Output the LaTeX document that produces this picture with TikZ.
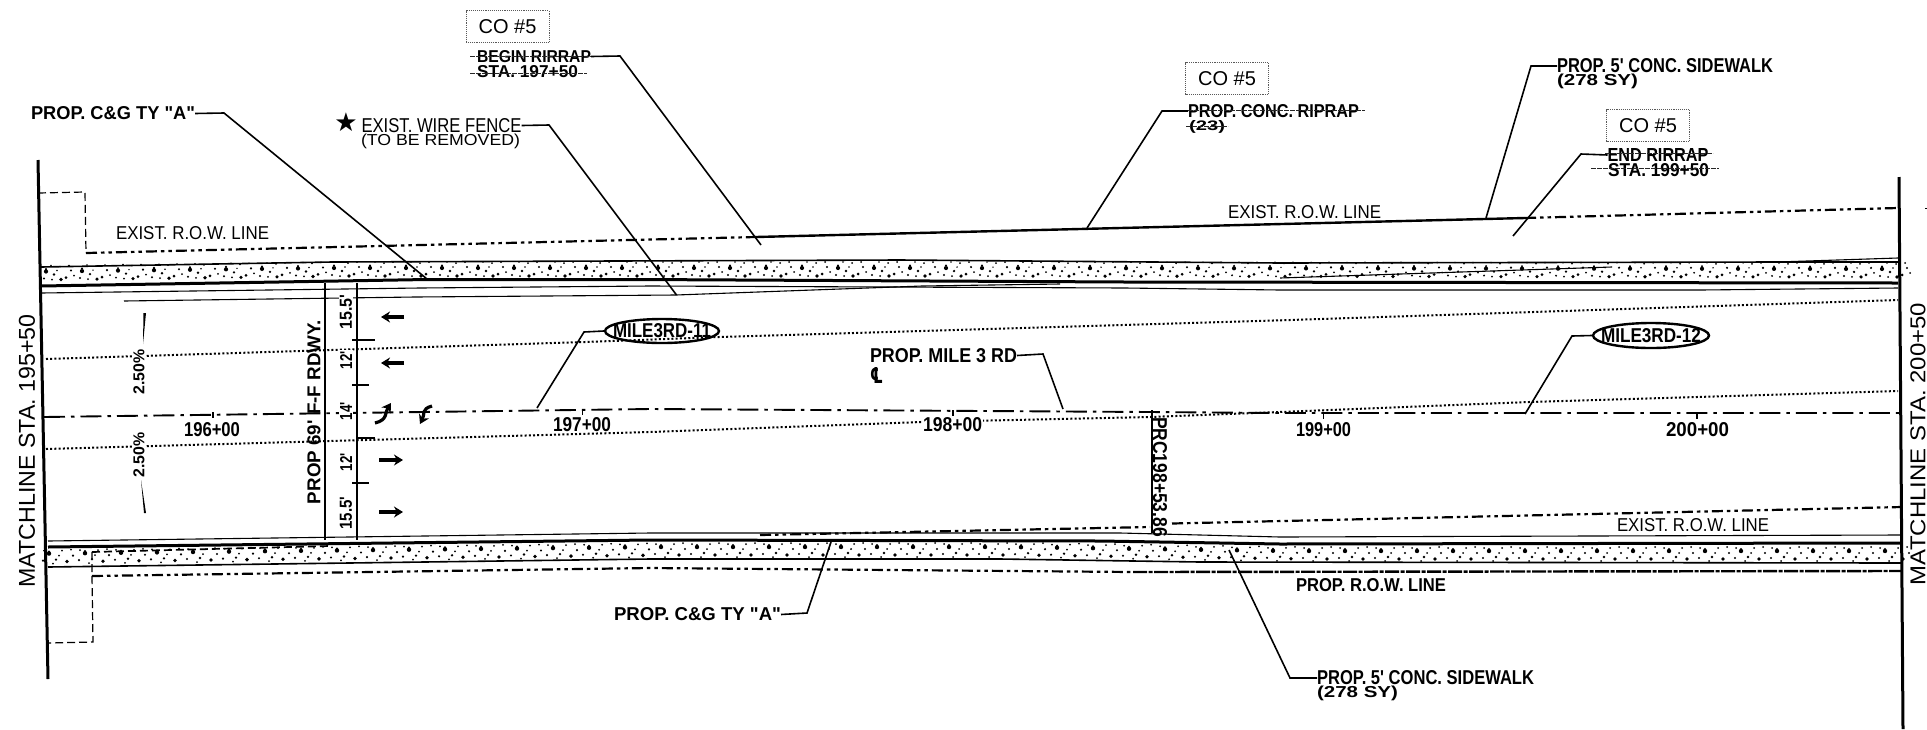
\documentclass[tikz,border=0pt]{standalone}
\usepackage{fontspec}
\usepackage{graphicx}
\setmainfont{Liberation Sans}
\newfontfamily\qf{Liberation Sans}
\usetikzlibrary{arrows.meta,shapes.geometric}
\newcommand\fb[3]{\resizebox{#1pt}{#2pt}{\qf #3}}
\tikzset{
  lbl/.style={inner sep=0pt,outer sep=0pt,anchor=west,font=\bfseries},
  lbllight/.style={inner sep=0pt,outer sep=0pt,anchor=west},
  mid/.style={inner sep=0pt,outer sep=0pt,anchor=center,font=\bfseries},
  cobox/.style={draw=black!65,densely dotted,line width=0.9pt,inner sep=0pt,minimum width=83pt,minimum height=32pt,font=\fontsize{20pt}{22pt}\selectfont},
  tagell/.style={draw,ellipse,line width=2.4pt,inner sep=0pt,minimum width=114pt,minimum height=24pt},
  leader/.style={line width=1.6pt},
  strike/.style={line width=1pt,black!85,dash pattern=on 5pt off 1pt},
  rowline/.style={line width=2.2pt,dash pattern=on 11pt off 4pt on 3.5pt off 4pt on 3.5pt off 4pt},
  rowdense/.style={line width=2.4pt,dash pattern=on 14pt off 1.5pt on 4pt off 1.5pt},
  cline/.style={line width=1.9pt,dash pattern=on 21pt off 6pt on 3.5pt off 6pt},
  dotline/.style={line width=2pt,dash pattern=on 2pt off 2.2pt},
  thin road/.style={line width=1.1pt},
  thick road/.style={line width=3pt},
  match/.style={line width=3pt},
  dashrect/.style={line width=1.2pt,dash pattern=on 8pt off 4pt},
  dim/.style={line width=1.3pt},
  lane/.style={line width=3.2pt,-{Stealth[length=9pt,width=11pt]}},
  grain/.style={fill=black}
}
\begin{document}
\begin{tikzpicture}[x=1pt,y=-1pt]
\path[use as bounding box,fill=white] (0,0) rectangle (1927,729);

% ---- sidewalk grain
\foreach \g in {41,77,...,1880}{
  \pgfmathsetmacro\yt{272-4*min(\g,332)/332+1*max(0,\g-900)/1000}
  \fill[grain] (\g+5,\yt) circle (2.1pt) (\g+5,\yt-2.5) circle (1.1pt);
  \fill[grain] (\g+13,\yt+3) circle (1.3pt) (\g+19,\yt-5) circle (1pt) (\g+25,\yt+6) circle (1.5pt) (\g+30,\yt-1) circle (1.2pt) (\g+3,\yt+7) circle (1.1pt) (\g+20,\yt+8) circle (1.8pt) (\g+33,\yt+4) circle (1pt) (\g+10,\yt-6) circle (.9pt) (\g+16,\yt-1) circle (.8pt) (\g+28,\yt-6) circle (1pt) (\g+11,\yt+8) circle (1pt);
  \pgfmathsetmacro\yb{557-7*min(\g,650)/650+4*max(0,min(\g,1280)-1000)/280}
  \fill[grain] (\g+8,\yb-3) circle (2.2pt) (\g+8,\yb-5) circle (1.2pt);
  \fill[grain] (\g+15,\yb+3) circle (1.3pt) (\g+21,\yb-6) circle (1pt) (\g+26,\yb+5) circle (1.9pt) (\g+32,\yb-1) circle (1.2pt) (\g+2,\yb+4) circle (1.2pt) (\g+18,\yb-1) circle (1pt) (\g+12,\yb+7) circle (1pt) (\g+30,\yb-7) circle (1pt) (\g+3,\yb-6) circle (1pt);
}

% ---- road lines, top
\draw[thin road,line width=1.6pt] (41,267)--(332,262)--(900,260)--(1280,263)--(1777,262)--(1898,262);
\draw[thin road] (1777,262)--(1898,258);
\draw[thick road] (41,286)--(427,279.5)--(640,279.5)--(1125,282)--(1898,283);
\draw[thin road] (41,293)--(420,288)--(650,286)--(1125,288)--(1280,290)--(1700,290)--(1898,288);
\draw[thin road] (124,301)--(415,297)--(676,295)--(922,286)--(1060,284);
\draw[thin road] (1280,278)--(1612,267);
% ---- road lines, bottom
\draw[thin road] (48,541)--(650,533)--(1120,533)--(1280,537)--(1900,535);
\draw[thick road] (48,547)--(650,540)--(1100,541)--(1280,544)--(1902,543);
\draw[thin road,line width=1.6pt] (48,567)--(650,559)--(1000,559)--(1200,562)--(1902,563);
\draw[dashrect,line width=1.7pt] (92,552)--(330,546);
% ---- R.O.W. lines
\draw[dashrect] (38,193)--(85,192)--(86,253);
\draw[rowline] (86,253)--(756,237);
\draw[line width=2.4pt] (756,237)--(1525,218);
\draw[rowline] (1525,218)--(1898,208);
\draw[line width=1pt] (1925,208)--(1927,208);
\draw[dashrect] (92,552)--(92,576)--(93,642)--(49,643);
\draw[rowline] (92,576)--(650,568)--(1133,572);
\draw[rowdense] (1133,572)--(1902,571);
\draw[rowline] (760,535)--(1150,527);
\draw[rowline] (1172,523.5)--(1902,507);
% ---- centre line and dotted lines
\draw[cline] (44,417)--(650,409)--(1150,412)--(1280,413)--(1902,413);
\draw[dotline] (46,359)--(585,342)--(719,337)--(1290,320)--(1898,300);
\draw[dotline] (46,449)--(650,432)--(922,422)--(1150,417)--(1280,412)--(1529,402)--(1898,391);
% ---- station ticks
\foreach \tx/\ty in {213/412,582.5/409,953/410,1323.5/413,1697/413}
  \draw[dim] (\tx,\ty)--(\tx,\ty+6);
% ---- matchlines
\draw[match] (38,160)--(48,679);
\draw[match] (1899,177)--(1903,729);
\node[mid,rotate=90,font=\normalfont] (mlL) at (27,451) {\fb{273}{16}{MATCHLINE STA. 195+50}};
\node[mid,rotate=90,font=\normalfont] (mlR) at (1918,444) {\fb{282}{15}{MATCHLINE STA. 200+50}};
% ---- dimension lines
\draw[dim] (325,283)--(325,540);
\draw[dim,line width=1.7pt] (357,283)--(357,540);
\draw[dim] (352,340)--(375,340) (357,438)--(375,438) (352,483)--(369,483) (352,385)--(369,385);
\node[mid,rotate=90] (rdwy) at (314,412) {\fb{184}{13}{PROP 69' F-F RDWY.}};
\node[mid,rotate=90,fill=white,inner sep=1pt] (d1) at (346,312) {\fb{35}{12}{15.5'}};
\node[mid,rotate=90,fill=white,inner sep=1pt] (d2) at (346,360) {\fb{18}{12}{12'}};
\node[mid,rotate=90,fill=white,inner sep=1pt] (d3) at (346,411) {\fb{18}{12}{14'}};
\node[mid,rotate=90,fill=white,inner sep=1pt] (d4) at (346,462) {\fb{18}{12}{12'}};
\node[mid,rotate=90,fill=white,inner sep=1pt] (d5) at (346,513) {\fb{33}{12}{15.5'}};
% ---- lane arrows
\draw[lane] (404,317)--(381,317);
\draw[lane] (404,363)--(381,363);
\draw[lane] (379,460)--(403,460);
\draw[lane] (379,512)--(403,512);
\draw[lane] (375,423) .. controls (388,420) and (385,412) .. (391,403);
\draw[lane] (432,406) .. controls (421,409) and (425,414) .. (420,424);
% ---- cross slope
\node[mid,rotate=90,fill=white,inner sep=.5pt] (cs1) at (139,372) {\fb{45}{11}{2.50\%}};
\node[mid,rotate=90,fill=white,inner sep=.5pt] (cs2) at (139,455) {\fb{45}{11}{2.50\%}};
\fill (143.5,313)--(146,313)--(143,344)--cycle;
\fill (141,480)--(144,513)--(146,513)--cycle;
% ---- stations
\node[mid] (s196) at (212,429.5) {\fb{56}{14}{196+00}};
\node[mid] (s197) at (582,424.5) {\fb{58}{14}{197+00}};
\node[mid,fill=white,inner sep=1pt] (s198) at (952.5,424.5) {\fb{59}{14}{198+00}};
\node[mid] (s199) at (1323.5,429.5) {\fb{55}{14}{199+00}};
\node[mid] (s200) at (1697.5,429.5) {\fb{63}{14}{200+00}};
% ---- CO boxes
\node[cobox] (co1) at (507.5,26.5) {CO \#5};
\node[cobox] (co2) at (1227,78.5) {CO \#5};
\node[cobox] (co3) at (1648,125.5) {CO \#5};
% ---- callouts with leaders
\node[lbl] (begin) at (477,56.5) {\fb{114}{12}{BEGIN RIRRAP}};
\node[lbl] (begin2) at (477,71.5) {\fb{101}{12}{STA. 197+50}};
\draw[strike] (470,56)--(591,56) (470,73)--(587,73);
\coordinate (t1) at (761,245);
\draw[leader] (begin.east)--(620,56)--(t1);

\node[lbl] (cg1) at (31,113.5) {\fb{164}{13}{PROP. C\&G TY "A"}};
\coordinate (t2) at (427,279);
\draw[leader] (cg1.east)--(224,113)--(t2);

\node[inner sep=0pt,font=\fontspec{DejaVu Sans}\fontsize{26pt}{26pt}\selectfont] (star) at (346,122) {★};
\node[lbllight] (fence) at (361.5,125.5) {\fb{160}{14}{EXIST. WIRE FENCE}};
\node[lbllight] (fence2) at (361,141) {\fb{159}{11.5}{(TO BE REMOVED)}};
\coordinate (t3) at (676.5,295);
\draw[leader] (fence.east)--(549,125)--(t3);

\node[lbllight] (exrow1) at (116,233.5) {\fb{153}{13}{EXIST. R.O.W. LINE}};
\node[lbllight] (exrow2) at (1228,212) {\fb{153}{13}{EXIST. R.O.W. LINE}};
\node[lbllight] (exrow3) at (1617,525) {\fb{152}{13}{EXIST. R.O.W. LINE}};
\node[lbl] (prow) at (1296,585) {\fb{150}{13}{PROP. R.O.W. LINE}};

\node[tagell] (m11) at (662,331) {};
\node[mid] (m11t) at (662,331) {\fb{98}{14}{MILE3RD-11}};
\coordinate (t4) at (537,408);
\draw[leader] (m11.west)--(584,332)--(t4);
\node[tagell,minimum width=116pt,minimum height=25pt] (m12) at (1651,335.5) {};
\node[mid] (m12t) at (1651,335.5) {\fb{100}{14}{MILE3RD-12}};
\coordinate (t5) at (1525,414);
\draw[leader] (m12.west)--(1572,336)--(t5);

\node[lbl] (mile) at (870,355.5) {\fb{147}{14}{PROP. MILE 3 RD}};
\node[inner sep=0pt,font=\fontspec{DejaVu Sans}\bfseries] (cl) at (876.5,375.5) {\fb{13}{16}{\fontspec{DejaVu Sans}℄}};
\coordinate (t6) at (1063,409);
\draw[leader] (mile.east)--(1043,354)--(t6);

\node[lbl] (cg2) at (614,614.5) {\fb{167}{13}{PROP. C\&G TY "A"}};
\coordinate (t7) at (831,542);
\draw[leader] (cg2.east)--(807,613)--(t7);

\node[lbl] (sw1) at (1317,678) {\fb{217}{14}{PROP. 5' CONC. SIDEWALK}};
\node[lbl] (sw1b) at (1317,693.5) {\fb{81}{11.5}{(278 SY)}};
\coordinate (t8) at (1229,550);
\draw[leader] (sw1.west)--(1290,678)--(t8);

\node[lbl] (sw2) at (1557,66) {\fb{216}{14}{PROP. 5' CONC. SIDEWALK}};
\node[lbl] (sw2b) at (1557,81.5) {\fb{81}{11.5}{(278 SY)}};
\coordinate (t9) at (1486,218);
\draw[leader] (sw2.west)--(1531,66)--(t9);

\node[lbl] (rip) at (1188,111) {\fb{171}{13}{PROP. CONC. RIPRAP}};
\node[lbl] (rip2) at (1189,127) {\fb{36}{10}{(23)}};
\draw[strike] (1188,110)--(1365,110) (1186,126)--(1228,126);
\coordinate (t10) at (1087,228);
\draw[leader] (rip.west)--(1162,111)--(t10);

\node[lbl] (endr) at (1607.5,155) {\fb{101}{13}{END RIRRAP}};
\node[lbl] (endr2) at (1608,170) {\fb{101}{13}{STA. 199+50}};
\draw[strike] (1605,153)--(1713,153) (1591,168)--(1719,168);
\coordinate (t11) at (1513,236);
\draw[leader] (endr.west)--(1581,154)--(t11);

% ---- PRC
\draw[line width=1.8pt] (1152,410)--(1152,533);
\node[mid,rotate=-90] (prc) at (1160,477) {\fb{120}{14}{PRC198+53.86}};
\end{tikzpicture}
\end{document}
